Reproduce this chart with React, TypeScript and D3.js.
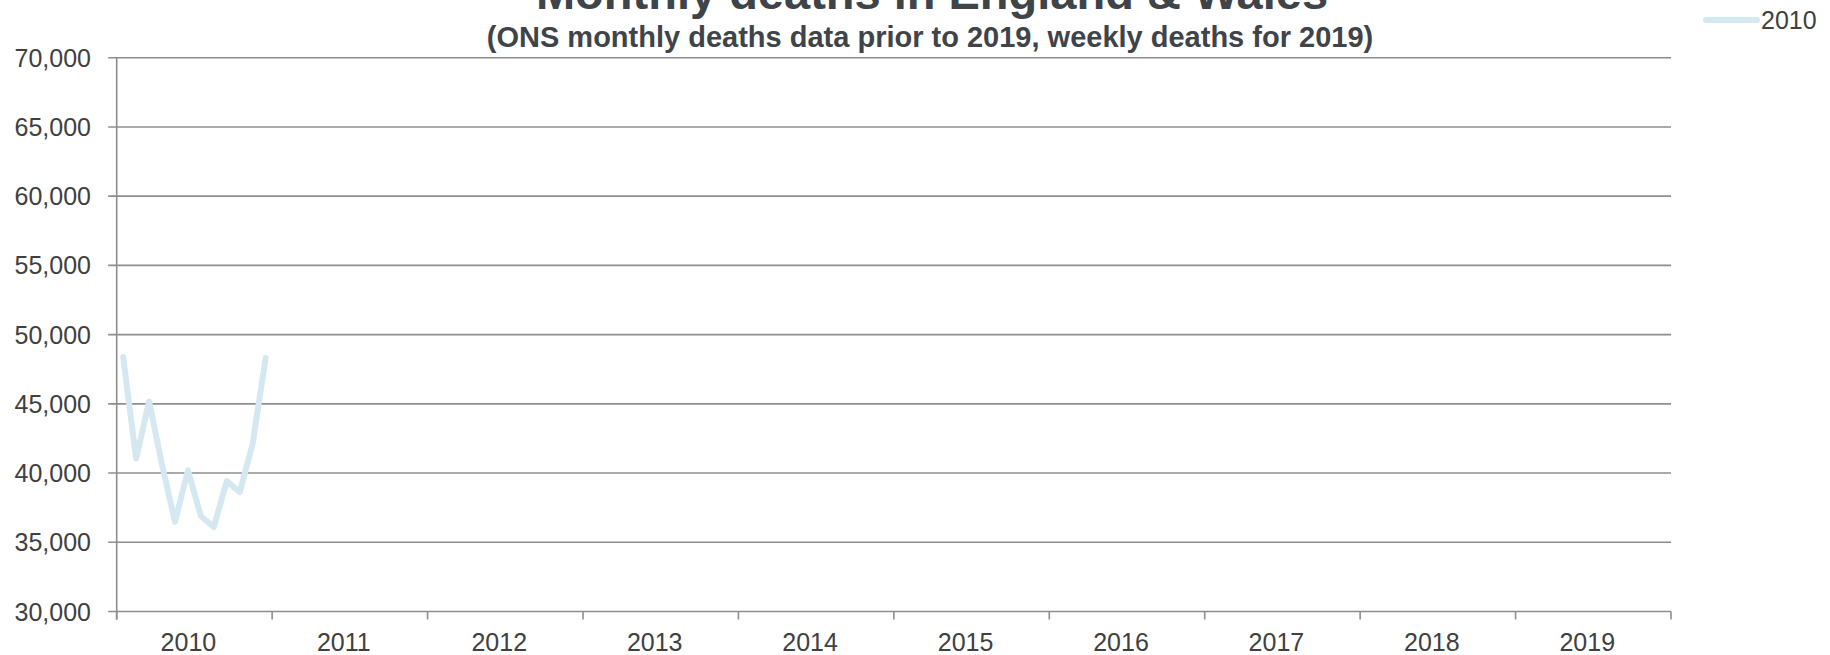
import React from "react";
import * as d3 from "d3";

const years = ["2010", "2011", "2012", "2013", "2014", "2015", "2016", "2017", "2018", "2019"];
const months = ["Jan", "Feb", "Mar", "Apr", "May", "Jun", "Jul", "Aug", "Sep", "Oct", "Nov", "Dec"];
const deaths2010 = [48380, 41050, 45170, 40600, 36480, 40200, 36880, 36100, 39420, 38620, 42140, 48320];
const yTicks = [30000, 35000, 40000, 45000, 50000, 55000, 60000, 65000, 70000];
const seriesName = "2010";
const title = "Monthly deaths in England & Wales";
const subtitle = "(ONS monthly deaths data prior to 2019, weekly deaths for 2019)";

const W = 1830;
const H = 655;
const left = 116.7;
const right = 1671;
const top = 57.7;
const bottom = 611.5;

const gridColor = "#8e8e8e";
const textColor = "#404040";
const titleColor = "#3f4449";
const lineColor = "#d5e8f0";
const font = "'Liberation Sans', Arial, sans-serif";

export default function App() {
  const x = d3.scaleBand<string>().domain(years).range([left, right]).padding(0);
  const y = d3.scaleLinear().domain([30000, 70000]).range([bottom, top]);
  const monthX = d3
    .scaleLinear()
    .domain([0, months.length])
    .range([x("2010") as number, (x("2010") as number) + x.bandwidth()]);

  const line = d3
    .line<number>()
    .x((_, i) => monthX(i + 0.5))
    .y((d) => y(d));

  const fmt = d3.format(",");
  const tickEdges = years.map((yr) => x(yr) as number).concat([right]);

  return (
    <svg
      width={W}
      height={H}
      style={{ position: "absolute", left: 0, top: 0, background: "#fff" }}
      fontFamily={font}
    >
      {/* gridlines */}
      {yTicks.map((t) => (
        <line
          key={"g" + t}
          x1={left - 8.5}
          x2={right}
          y1={y(t)}
          y2={y(t)}
          stroke={gridColor}
          strokeWidth={1.6}
        />
      ))}
      {/* y axis line */}
      <line x1={left} x2={left} y1={top} y2={bottom + 8} stroke={gridColor} strokeWidth={1.6} />
      {/* x ticks */}
      {tickEdges.map((e, i) => (
        <line
          key={"xt" + i}
          x1={e}
          x2={e}
          y1={bottom}
          y2={bottom + 8}
          stroke={gridColor}
          strokeWidth={1.6}
        />
      ))}
      {/* y labels */}
      {yTicks.map((t) => (
        <text
          key={"yl" + t}
          x={91}
          y={y(t) + 9}
          textAnchor="end"
          fontSize={25}
          fill={textColor}
        >
          {fmt(t)}
        </text>
      ))}
      {/* x labels */}
      {years.map((yr) => (
        <text
          key={"xl" + yr}
          x={(x(yr) as number) + x.bandwidth() / 2 - 6}
          y={651}
          textAnchor="middle"
          fontSize={25}
          fill={textColor}
        >
          {yr}
        </text>
      ))}
      {/* series */}
      <path
        d={line(deaths2010) || ""}
        fill="none"
        stroke={lineColor}
        strokeWidth={6}
        strokeLinejoin="round"
        strokeLinecap="round"
      />
      {/* title */}
      <text x={932} y={9} textAnchor="middle" fontSize={47} fontWeight="bold" fill={titleColor}>
        {title}
      </text>
      <text x={930} y={46.5} textAnchor="middle" fontSize={29} fontWeight="bold" fill={titleColor}>
        {subtitle}
      </text>
      {/* legend */}
      <line
        x1={1706}
        x2={1757}
        y1={20}
        y2={20}
        stroke={lineColor}
        strokeWidth={6}
        strokeLinecap="round"
      />
      <text x={1761} y={28.5} fontSize={25} fill={textColor}>
        {seriesName}
      </text>
    </svg>
  );
}
